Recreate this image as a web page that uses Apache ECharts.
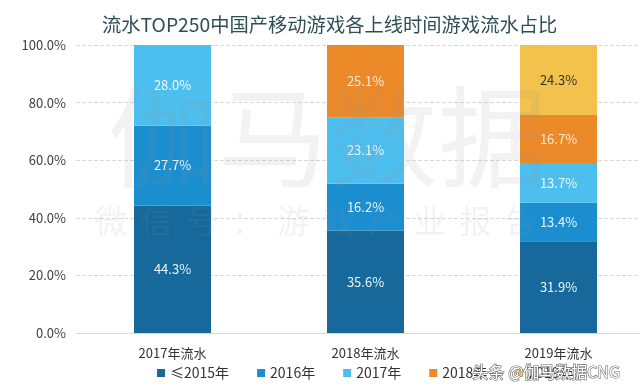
<!DOCTYPE html>
<html>
<head>
<meta charset="utf-8">
<script src="https://cdn.jsdelivr.net/npm/echarts@6/dist/echarts.min.js"></script>
<style>html,body{margin:0;padding:0;background:#fff}#c{width:640px;height:392px}</style>
</head>
<body>
<div id="c"></div>
<script>
var categories = ['2017年流水', '2018年流水', '2019年流水'];
var seriesNames = ['≤2015年', '2016年', '2017年', '2018年', '2019年'];
var v2015 = [44.3, 35.6, 31.9];
var v2016 = [27.7, 16.2, 13.4];
var v2017 = [28.0, 23.1, 13.7];
var v2018 = [null, 25.1, 16.7];
var v2019 = [null, null, 24.3];
var yTicks = [0, 20, 40, 60, 80, 100];

var colors = ['#16699a', '#1b8ecf', '#4dbfef', '#ec8a2a', '#f3c24c'];
var labelColors = ['#e8f4fb', '#e8f4fb', '#eef8fd', '#fbe9d6', '#333333'];
var allData = [v2015, v2016, v2017, v2018, v2019];
var FONT = '"Noto Sans CJK SC", "Microsoft YaHei", sans-serif';

var series = seriesNames.map(function (n, i) {
  return {
    name: n,
    type: 'bar',
    stack: 'total',
    barWidth: 77,
    data: allData[i],
    itemStyle: { color: colors[i] },
    label: {
      show: true,
      position: 'inside',
      color: labelColors[i],
      fontSize: 13,
      fontFamily: FONT,
      formatter: function (p) { return p.value == null ? '' : p.value.toFixed(1) + '%'; }
    }
  };
});

var chart = echarts.init(document.getElementById('c'));
chart.setOption({
  animation: false,
  backgroundColor: '#ffffff',
  textStyle: { fontFamily: FONT },
  title: {
    text: '流水TOP250中国产移动游戏各上线时间游戏流水占比',
    left: 97,
    top: 10,
    textStyle: { fontSize: 19.3, fontWeight: 'normal', color: '#2f4f58', fontFamily: FONT }
  },
  legend: {
    data: seriesNames,
    bottom: 7,
    left: 152,
    itemWidth: 8,
    itemHeight: 8,
    itemGap: 28,
    icon: 'rect',
    textStyle: { fontSize: 14, color: '#333', fontFamily: FONT }
  },
  grid: { left: 76, width: 579, top: 45, bottom: 59, outerBoundsMode: 'none', containLabel: false },
  xAxis: {
    type: 'category',
    data: categories,
    axisTick: { show: false },
    axisLine: { lineStyle: { color: '#d9d9d9' } },
    axisLabel: { fontSize: 13, color: '#333', margin: 14, fontFamily: FONT }
  },
  yAxis: {
    type: 'value',
    min: yTicks[0],
    max: yTicks[yTicks.length - 1],
    interval: 20,
    axisLine: { show: false },
    axisTick: { show: false },
    axisLabel: {
      fontSize: 13, color: '#404040', margin: 10, fontFamily: FONT,
      formatter: function (v) { return v.toFixed(1) + '%'; }
    },
    splitLine: { lineStyle: { color: '#d9d9d9', type: 'dashed' } }
  },
  graphic: [
    {
      type: 'text', left: 108, top: 82, z: 100, silent: true,
      style: { text: '伽马数据', font: '110px "Noto Sans CJK SC"', fill: 'rgba(150,150,150,0.12)' }
    },
    {
      type: 'text', left: 95, top: 205, z: 100, silent: true,
      style: { text: '微 \u2009信 \u2009号 \u2009： \u2009游 \u2009戏 \u2009产 \u2009业 \u2009报 \u2009告', font: '32px "Noto Sans CJK SC"', fill: 'rgba(150,150,150,0.12)' }
    },
    {
      type: 'text', left: 472, top: 363, z: 100, silent: true,
      style: { text: '头条 @伽马数据CNG', font: '16px "Noto Sans CJK SC"', fill: '#ffffff', stroke: '#666', lineWidth: 1.2 }
    }
  ],
  series: series
});
</script>
</body>
</html>
